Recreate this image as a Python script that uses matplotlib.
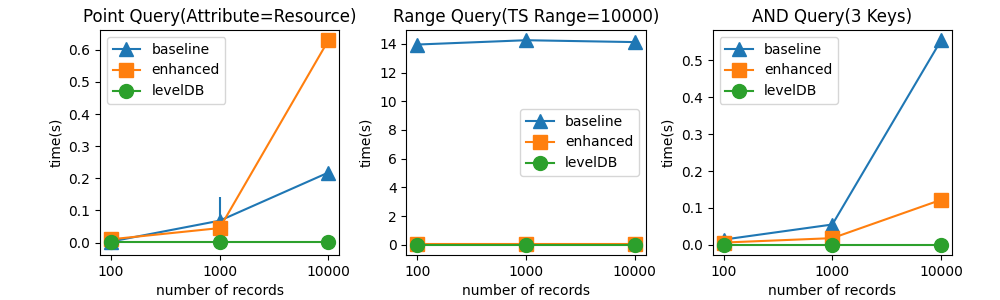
import numpy as np
import matplotlib.pyplot as plt

registros = ['100', '1000', '10000']

# consulta puntual
punto_baseline = [0.003, 0.068, 0.218]
punto_baseline_err = [0.004, 0.075, 0.0]
punto_enhanced = [0.010, 0.045, 0.630]
punto_leveldb = [0.001, 0.001, 0.001]

# consulta por rango
rango_baseline = [13.95, 14.25, 14.12]
rango_enhanced = [0.03, 0.03, 0.03]
rango_leveldb = [0.0, 0.0, 0.0]

# consulta AND
and_baseline = [0.014, 0.055, 0.555]
and_baseline_err = [0.008, 0.0, 0.0]
and_enhanced = [0.006, 0.018, 0.122]
and_leveldb = [0.0, 0.0, 0.0]

titulos = ['Point Query(Attribute=Resource)', 'Range Query(TS Range=10000)', 'AND Query(3 Keys)']


def graficar_panel(ax, titulo, baseline, enhanced, leveldb, err=None, loc='upper left'):
    x = np.arange(len(registros))
    ax.plot(x, baseline, '-^', color='#1f77b4', markersize=10, label='baseline')
    if err is not None:
        ax.errorbar(x, baseline, yerr=err, fmt='none', ecolor='#1f77b4')
    ax.plot(x, enhanced, '-s', color='#ff7f0e', markersize=10, label='enhanced')
    ax.plot(x, leveldb, '-o', color='#2ca02c', markersize=10, label='levelDB')
    ax.set_xticks(x)
    ax.set_xticklabels(registros)
    ax.set_xlabel('number of records')
    ax.set_ylabel('time(s)')
    ax.set_title(titulo)
    ax.legend(loc=loc)


fig, axs = plt.subplots(1, 3, figsize=(10, 3))
graficar_panel(axs[0], titulos[0], punto_baseline, punto_enhanced, punto_leveldb, err=punto_baseline_err)
graficar_panel(axs[1], titulos[1], rango_baseline, rango_enhanced, rango_leveldb, loc='center right')
graficar_panel(axs[2], titulos[2], and_baseline, and_enhanced, and_leveldb, err=and_baseline_err)
plt.subplots_adjust(left=0.1, right=0.952, bottom=0.15, top=0.9, wspace=0.28)
plt.savefig('out.png', dpi=100)
